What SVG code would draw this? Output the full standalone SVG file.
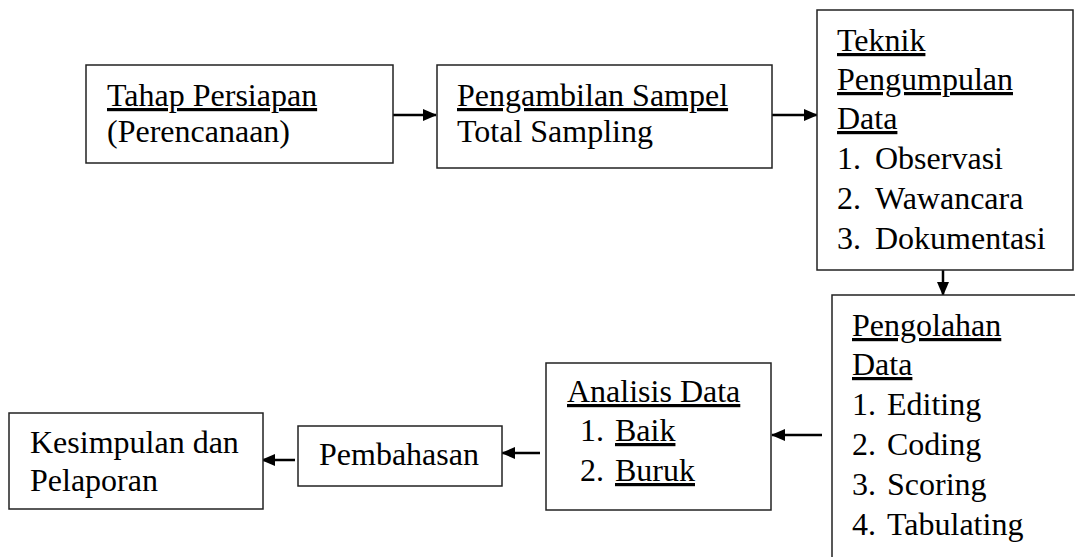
<svg xmlns="http://www.w3.org/2000/svg" width="1075" height="557" viewBox="0 0 1075 557">
<style>
.box{fill:#fff;stroke:#222;stroke-width:1.5}
.t{font-family:"Liberation Serif","Times New Roman",serif;font-size:32px;fill:#000}
.u{text-decoration:underline}
.c{stroke:#000;stroke-width:2.5;fill:none;marker-end:url(#ah)}
</style>
<defs>
<marker id="ah" markerUnits="userSpaceOnUse" markerWidth="14" markerHeight="12" refX="13" refY="6" orient="auto">
<path d="M0,0 L14,6 L0,12 Z" fill="#000"/>
</marker>
</defs>
<rect width="1075" height="557" fill="#fff"/>
<g id="connectors">
<line class="c" x1="393" y1="115" x2="436" y2="115"/>
<line class="c" x1="772" y1="115" x2="817" y2="115"/>
<line class="c" x1="943" y1="270" x2="943" y2="295"/>
<line class="c" x1="822" y1="435" x2="772" y2="435"/>
<line class="c" x1="540" y1="453" x2="502" y2="453"/>
<line class="c" x1="295" y1="460" x2="262" y2="460"/>
</g>
<g id="tahap">
<rect class="box" x="86" y="65" width="307" height="98"/>
<text class="t" x="107" y="106"><tspan class="u">Tahap Persiapan</tspan></text>
<text class="t" x="107" y="142">(Perencanaan)</text>
</g>
<g id="sampel">
<rect class="box" x="437" y="65" width="335" height="103"/>
<text class="t" x="457" y="106"><tspan class="u">Pengambilan Sampel</tspan></text>
<text class="t" x="457" y="142">Total Sampling</text>
</g>
<g id="teknik">
<rect class="box" x="817" y="10" width="256" height="260"/>
<text class="t u" x="837" y="51">Teknik</text>
<text class="t u" x="837" y="90">Pengumpulan</text>
<text class="t u" x="837" y="129">Data</text>
<text class="t" x="837" y="169">1.</text><text class="t" x="875" y="169">Observasi</text>
<text class="t" x="837" y="209">2.</text><text class="t" x="875" y="209">Wawancara</text>
<text class="t" x="837" y="249">3.</text><text class="t" x="875" y="249">Dokumentasi</text>
</g>
<g id="pengolahan">
<rect class="box" x="832" y="295" width="260" height="280"/>
<text class="t u" x="852" y="336">Pengolahan</text>
<text class="t u" x="852" y="375">Data</text>
<text class="t" x="852" y="415">1.</text><text class="t" x="887" y="415">Editing</text>
<text class="t" x="852" y="455">2.</text><text class="t" x="887" y="455">Coding</text>
<text class="t" x="852" y="495">3.</text><text class="t" x="887" y="495">Scoring</text>
<text class="t" x="852" y="535">4.</text><text class="t" x="887" y="535">Tabulating</text>
</g>
<g id="analisis">
<rect class="box" x="546" y="363" width="225" height="147"/>
<text class="t u" x="567" y="402">Analisis Data</text>
<text class="t" x="580" y="441">1.</text><text class="t u" x="615" y="441">Baik</text>
<text class="t" x="580" y="481">2.</text><text class="t u" x="615" y="481">Buruk</text>
</g>
<g id="pembahasan">
<rect class="box" x="298" y="426" width="204" height="60"/>
<text class="t" x="319" y="465">Pembahasan</text>
</g>
<g id="kesimpulan">
<rect class="box" x="9" y="413" width="254" height="96"/>
<text class="t" x="30" y="453">Kesimpulan dan</text>
<text class="t" x="30" y="491">Pelaporan</text>
</g>
</svg>
